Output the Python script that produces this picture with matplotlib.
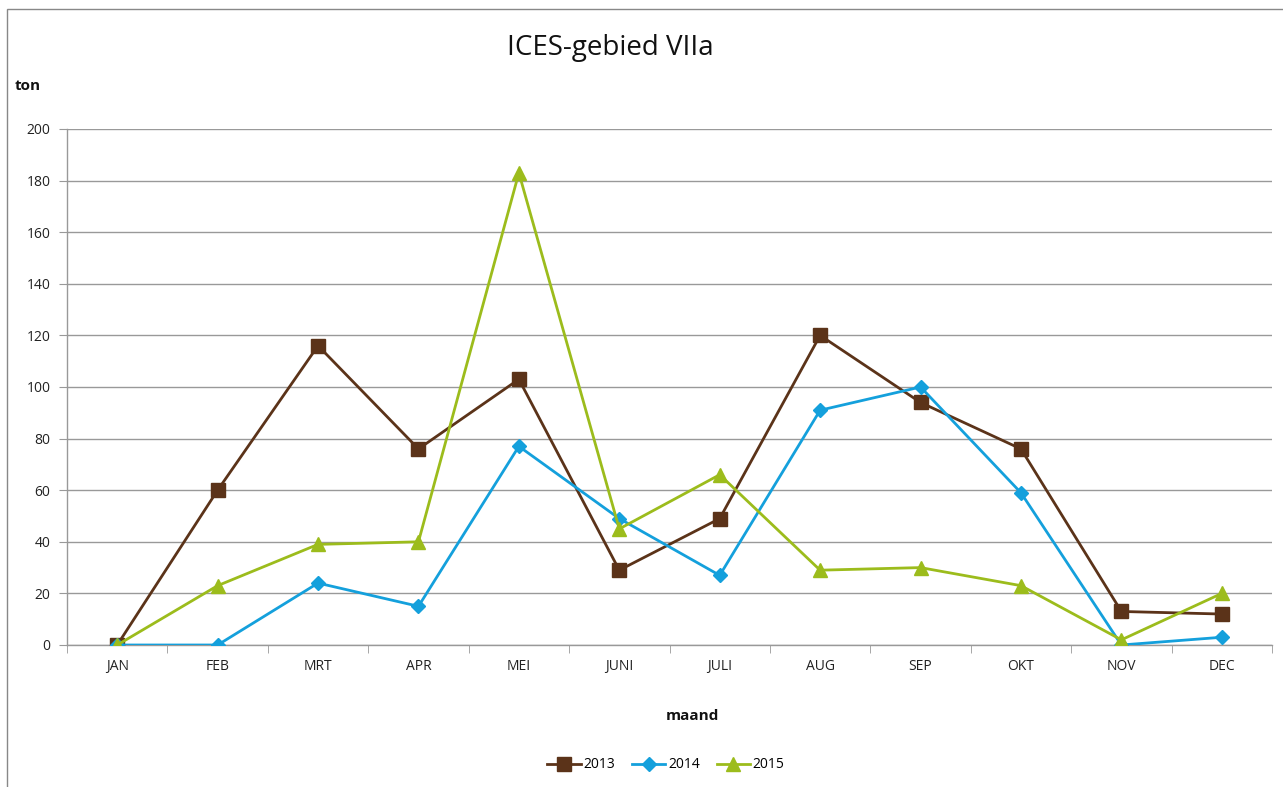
import matplotlib
matplotlib.use("Agg")
import matplotlib.pyplot as plt
from matplotlib.patches import Rectangle

months = ["JAN", "FEB", "MRT", "APR", "MEI", "JUNI", "JULI", "AUG", "SEP", "OKT", "NOV", "DEC"]
v2013 = [0, 60, 116, 76, 103, 29, 49, 120, 94, 76, 13, 12]
v2014 = [0, 0, 24, 15, 77, 49, 27, 91, 100, 59, 0, 3]
v2015 = [0, 23, 39, 40, 183, 45, 66, 29, 30, 23, 2, 20]
yticks = [0, 20, 40, 60, 80, 100, 120, 140, 160, 180, 200]

plt.rcParams['font.family'] = ['Open Sans', 'DejaVu Sans']

W, H = 1283, 787
fig = plt.figure(figsize=(W / 100, H / 100), dpi=100)
ax = fig.add_axes([67 / W, 1 - 645 / H, (1272 - 67) / W, (645 - 129) / H])

x = list(range(len(months)))
ax.plot(x, v2013, color="#5b3319", lw=2.0, marker="s", ms=9.5, label="2013", zorder=3)
ax.plot(x, v2014, color="#14a0dc", lw=2.0, marker="D", ms=7, label="2014", zorder=4)
ax.plot(x, v2015, color="#9cbc1c", lw=2.0, marker="^", ms=10, label="2015", zorder=5)

ax.set_xlim(-0.5, len(months) - 0.5)
ax.set_ylim(0, 200)
ax.set_yticks(yticks)
ax.set_yticklabels([str(t) for t in yticks], fontsize=10, color="#222222")
ax.set_xticks(x)
ax.set_xticklabels(months, fontsize=10, color="#222222")
ax.set_xticks([i - 0.5 for i in range(len(months) + 1)], minor=True)
ax.tick_params(axis="x", which="major", length=0, pad=10)
ax.tick_params(axis="x", which="minor", length=6, color="#999999", direction="out")
ax.tick_params(axis="y", which="major", length=6, color="#999999", pad=6)
ax.yaxis.grid(True, color="#999999", lw=1.0)
ax.set_axisbelow(True)
for s in ["top", "right"]:
    ax.spines[s].set_visible(False)
for s in ["left", "bottom"]:
    ax.spines[s].set_color("#999999")
    ax.spines[s].set_linewidth(1.0)

fig.text(610 / W, 1 - 48 / H, "ICES-gebied VIIa", fontsize=20, ha="center", va="center", color="#111111")
fig.text(15 / W, 1 - 86 / H, "ton", fontsize=11, fontweight="bold", ha="left", va="center", color="#111111")
fig.text(692 / W, 1 - 716 / H, "maand", fontsize=11, fontweight="bold", ha="center", va="center", color="#111111")

leg = fig.legend(loc="center", bbox_to_anchor=(666 / W, 1 - 765 / H), ncol=3, frameon=False,
                 fontsize=10, handlelength=2.4, columnspacing=1.2, handletextpad=0.2)

fig.patches.append(Rectangle((7 / W, -0.1), 1.2, 1 - 9 / H + 0.1, transform=fig.transFigure,
                             fill=False, edgecolor="#888888", lw=1.0))

fig.savefig("out.png", dpi=100)
